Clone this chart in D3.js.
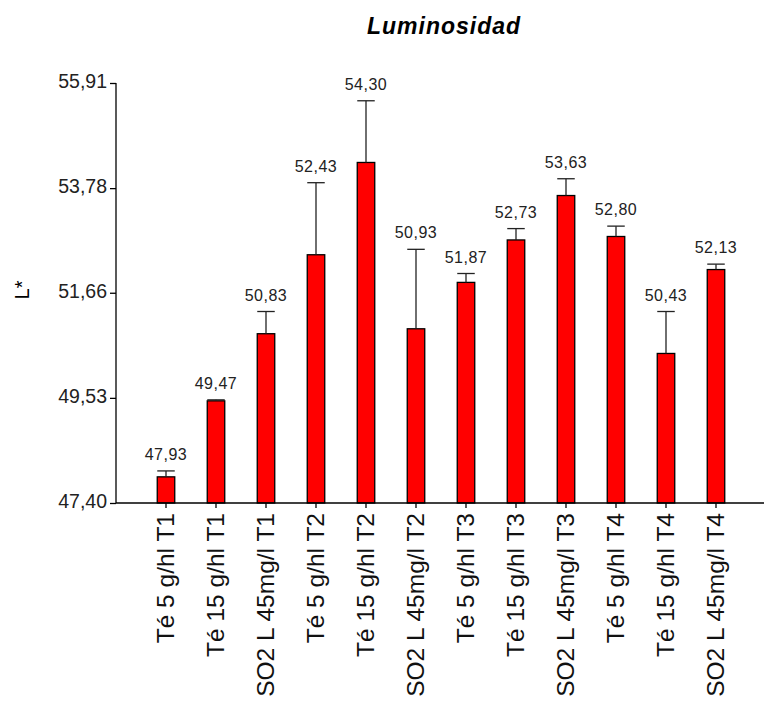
<!DOCTYPE html>
<html><head><meta charset="utf-8">
<script src="https://cdn.jsdelivr.net/npm/d3@7/dist/d3.min.js"></script>
<style>body{margin:0;background:#fff}svg{display:block}</style>
</head><body><svg id="c" width="765" height="702"></svg>
<script>
const categories = ["Té 5 g/hl T1","Té 15 g/hl T1","SO2 L 45mg/l T1","Té 5 g/hl T2","Té 15 g/hl T2","SO2 L 45mg/l T2","Té 5 g/hl T3","Té 15 g/hl T3","SO2 L 45mg/l T3","Té 5 g/hl T4","Té 15 g/hl T4","SO2 L 45mg/l T4"];
const values = [47.93,49.47,50.83,52.43,54.30,50.93,51.87,52.73,53.63,52.80,50.43,52.13];
const errors = [0.12,0.02,0.45,1.46,1.25,1.61,0.18,0.23,0.34,0.21,0.85,0.11];
const yTicks = [47.40,49.53,51.66,53.78,55.91];
const title = "Luminosidad";
const yLabel = "L*";

const svg = d3.select("#c");
const font = "'Liberation Sans', Arial, sans-serif";
const fmt = d => d.toFixed(2).replace(".", ",");

const x = d3.scaleBand().domain(categories).range([141, 741]).paddingInner(0.65).paddingOuter(0.325);
const y = d3.scaleLinear().domain([47.40, 55.91]).range([503, 83]);

// title
svg.append("text").attr("x", 444).attr("y", 34).attr("text-anchor", "middle")
  .style("font-family", font).style("font-size", "23px").style("font-weight", "bold")
  .style("font-style", "italic").style("letter-spacing", "1px").attr("fill", "#000").text(title);

// y axis label
svg.append("text").attr("transform", "translate(29,290) rotate(-90)").attr("text-anchor", "middle")
  .style("font-family", font).style("font-size", "20px").attr("fill", "#000").text(yLabel);

// bars
const g = svg.append("g");
g.selectAll("rect.bar").data(values).join("rect").attr("class", "bar")
  .attr("x", (d, i) => x(categories[i]))
  .attr("y", d => y(d))
  .attr("width", x.bandwidth())
  .attr("height", d => y.range()[0] - y(d))
  .attr("fill", "#ff0000").attr("stroke", "#000").attr("stroke-width", 1.3);

// error bars
const eb = g.selectAll("g.err").data(values).join("g").attr("class", "err");
eb.append("line")
  .attr("x1", (d, i) => x(categories[i]) + x.bandwidth() / 2)
  .attr("x2", (d, i) => x(categories[i]) + x.bandwidth() / 2)
  .attr("y1", d => y(d))
  .attr("y2", (d, i) => y(d + errors[i]))
  .attr("stroke", "#222").attr("stroke-width", 1.3);
eb.append("line")
  .attr("x1", (d, i) => x(categories[i]))
  .attr("x2", (d, i) => x(categories[i]) + x.bandwidth())
  .attr("y1", (d, i) => y(d + errors[i]))
  .attr("y2", (d, i) => y(d + errors[i]))
  .attr("stroke", "#222").attr("stroke-width", 1.3);

// value labels
g.selectAll("text.val").data(values).join("text").attr("class", "val")
  .attr("x", (d, i) => x(categories[i]) + x.bandwidth() / 2)
  .attr("y", (d, i) => y(d + errors[i]) - 11)
  .attr("text-anchor", "middle")
  .style("font-family", font).style("font-size", "16px").style("letter-spacing", "0.5px")
  .attr("fill", "#222").text(d => fmt(d));

// y axis
const yAxis = svg.append("g").attr("transform", "translate(116,0)")
  .call(d3.axisLeft(y).tickValues(yTicks).tickFormat(fmt).tickSize(6).tickPadding(3));
yAxis.select(".domain").attr("d", `M0,${y(55.91)}V${y(47.40)}`).attr("stroke", "#000").attr("stroke-width", 1.3);
yAxis.selectAll(".tick line").attr("stroke", "#000").attr("stroke-width", 1.3);
yAxis.selectAll(".tick text").style("font-family", font).style("font-size", "19.5px").attr("fill", "#222").attr("dy", "0.25em");

// x axis
const xAxis = svg.append("g").attr("transform", "translate(0,503)")
  .call(d3.axisBottom(x).tickSize(5).tickPadding(7));
xAxis.select(".domain").attr("d", "M116,0H764").attr("stroke", "#000").attr("stroke-width", 1.3);
xAxis.selectAll(".tick line").attr("stroke", "#000").attr("stroke-width", 1.3);
xAxis.selectAll(".tick text")
  .attr("transform", "rotate(-90)").attr("text-anchor", "end")
  .attr("x", -10).attr("y", 0).attr("dy", "0.33em")
  .style("font-family", font).style("font-size", "24.5px").attr("fill", "#111");
</script></body></html>
